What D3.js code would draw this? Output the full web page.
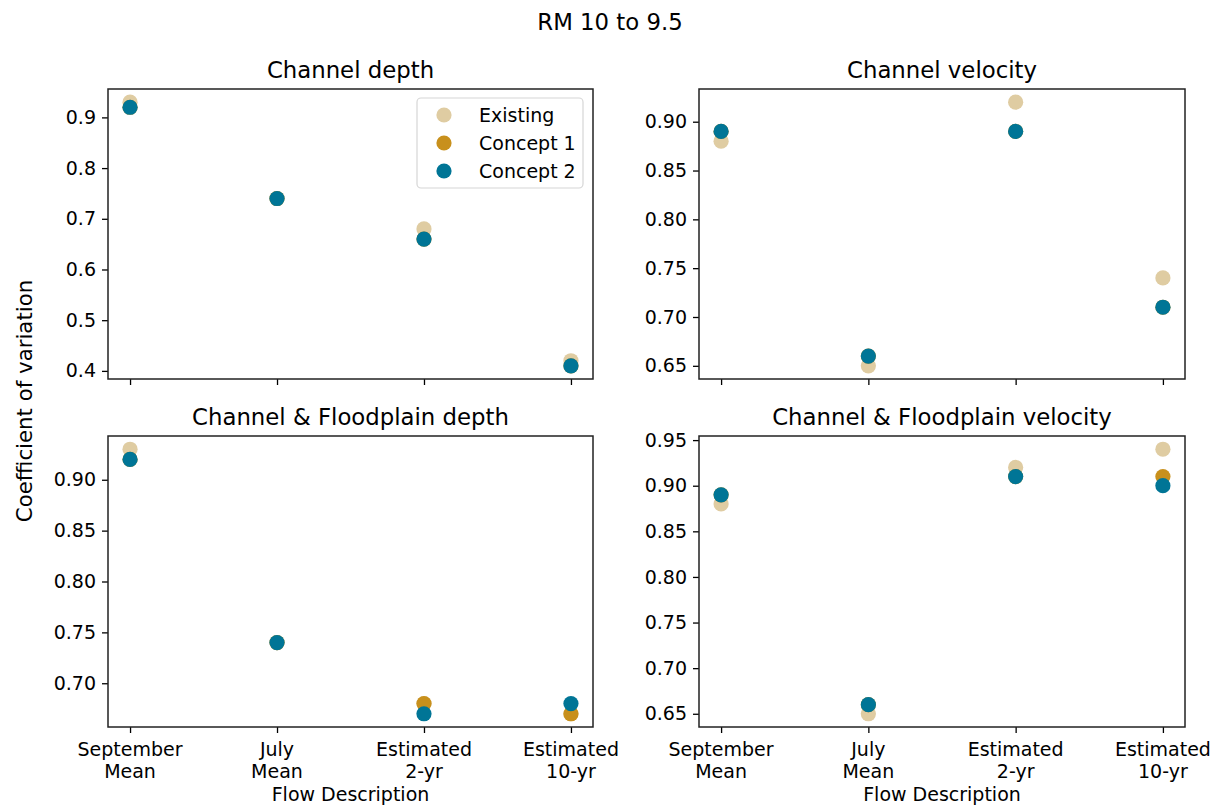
<!DOCTYPE html>
<html>
<head>
<meta charset="utf-8">
<script src="https://cdn.jsdelivr.net/npm/d3@7"></script>
<style>
  html, body { margin: 0; padding: 0; background: #fff; }
  svg text { font-family: "DejaVu Sans", sans-serif; fill: #000; }
</style>
</head>
<body>
<svg id="chart" width="1211" height="805"></svg>
<script>
// Flow conditions along the x axis (two-line labels)
const flowLabels = [["September", "Mean"], ["July", "Mean"], ["Estimated", "2-yr"], ["Estimated", "10-yr"]];

// Scenario names and marker colours
const seriesNames = ["Existing", "Concept 1", "Concept 2"];
const seriesColors = ["#dfcca2", "#c8901c", "#007596"];

// Coefficient of variation per panel, one array per scenario
const channelDepth = {
  existing: [0.93, 0.74, 0.68, 0.42],
  concept1: [0.92, 0.74, 0.66, 0.41],
  concept2: [0.92, 0.74, 0.66, 0.41]
};
const channelVelocity = {
  existing: [0.88, 0.65, 0.92, 0.74],
  concept1: [0.89, 0.66, 0.89, 0.71],
  concept2: [0.89, 0.66, 0.89, 0.71]
};
const floodplainDepth = {
  existing: [0.93, 0.74, 0.68, 0.67],
  concept1: [0.92, 0.74, 0.68, 0.67],
  concept2: [0.92, 0.74, 0.67, 0.68]
};
const floodplainVelocity = {
  existing: [0.88, 0.65, 0.92, 0.94],
  concept1: [0.89, 0.66, 0.91, 0.91],
  concept2: [0.89, 0.66, 0.91, 0.90]
};

// Tick values for each panel's y axis
const ticksChannelDepth = [0.4, 0.5, 0.6, 0.7, 0.8, 0.9];
const ticksChannelVelocity = [0.65, 0.70, 0.75, 0.80, 0.85, 0.90];
const ticksFloodplainDepth = [0.70, 0.75, 0.80, 0.85, 0.90];
const ticksFloodplainVelocity = [0.65, 0.70, 0.75, 0.80, 0.85, 0.90, 0.95];

const panels = [
  { title: "Channel depth", data: channelDepth, ticks: ticksChannelDepth, fmt: ".1f",
    x0: 108, x1: 593, y0: 89, y1: 379, legend: true, xlabels: false },
  { title: "Channel velocity", data: channelVelocity, ticks: ticksChannelVelocity, fmt: ".2f",
    x0: 699, x1: 1185, y0: 89, y1: 379, legend: false, xlabels: false },
  { title: "Channel & Floodplain depth", data: floodplainDepth, ticks: ticksFloodplainDepth, fmt: ".2f",
    x0: 108, x1: 593, y0: 436, y1: 727, legend: false, xlabels: true },
  { title: "Channel & Floodplain velocity", data: floodplainVelocity, ticks: ticksFloodplainVelocity, fmt: ".2f",
    x0: 699, x1: 1185, y0: 436, y1: 727, legend: false, xlabels: true }
];

const svg = d3.select("#chart");
const tickFont = 19;
const titleFont = 22.8;

// Figure title
svg.append("text")
  .attr("x", 610).attr("y", 30)
  .attr("text-anchor", "middle")
  .style("font-size", titleFont + "px")
  .text("RM 10 to 9.5");

// Shared y label
svg.append("text")
  .attr("transform", "translate(32,401) rotate(-90)")
  .attr("text-anchor", "middle")
  .style("font-size", "21.3px")
  .text("Coefficient of variation");

panels.forEach(p => {
  const keys = ["existing", "concept1", "concept2"];
  const all = keys.flatMap(k => p.data[k]);
  const lo = d3.min(all), hi = d3.max(all);
  const pad = (hi - lo) * 0.05;

  // Categorical positions 0..3 with 5% margins on either side
  const xr = d3.scaleLinear().domain([-0.15, 3.15]).range([p.x0, p.x1]);
  const y = d3.scaleLinear().domain([lo - pad, hi + pad]).range([p.y1, p.y0]);

  const g = svg.append("g");

  // Points, drawn in scenario order so later ones sit on top
  keys.forEach((k, si) => {
    g.selectAll(null)
      .data(p.data[k])
      .join("circle")
      .attr("cx", (d, i) => xr(i))
      .attr("cy", d => y(d))
      .attr("r", 7.6)
      .attr("fill", seriesColors[si]);
  });

  // Y axis
  const yAxis = d3.axisLeft(y).tickValues(p.ticks).tickFormat(d3.format(p.fmt))
    .tickSizeInner(6).tickSizeOuter(0).tickPadding(6);
  const ya = svg.append("g").attr("transform", `translate(${p.x0},0)`).call(yAxis);
  ya.select(".domain").remove();
  ya.selectAll("line").attr("stroke", "#000").attr("stroke-width", 1.3);
  ya.selectAll("text").style("font-size", tickFont + "px").attr("font-family", "DejaVu Sans");

  // X axis ticks
  const xAxis = d3.axisBottom(xr).tickValues([0, 1, 2, 3]).tickFormat("")
    .tickSizeInner(6).tickSizeOuter(0);
  const xa = svg.append("g").attr("transform", `translate(0,${p.y1})`).call(xAxis);
  xa.select(".domain").remove();
  xa.selectAll("line").attr("stroke", "#000").attr("stroke-width", 1.3);

  if (p.xlabels) {
    flowLabels.forEach((lines, i) => {
      const t = svg.append("text")
        .attr("x", xr(i)).attr("y", p.y1 + 29)
        .attr("text-anchor", "middle")
        .style("font-size", tickFont + "px");
      lines.forEach((ln, j) => {
        t.append("tspan").attr("x", xr(i)).attr("dy", j === 0 ? 0 : 21.5).text(ln);
      });
    });
    svg.append("text")
      .attr("x", (p.x0 + p.x1) / 2).attr("y", 801)
      .attr("text-anchor", "middle")
      .style("font-size", tickFont + "px")
      .text("Flow Description");
  }

  // Frame
  svg.append("rect")
    .attr("x", p.x0).attr("y", p.y0)
    .attr("width", p.x1 - p.x0).attr("height", p.y1 - p.y0)
    .attr("fill", "none").attr("stroke", "#222").attr("stroke-width", 1.5);

  // Panel title
  svg.append("text")
    .attr("x", (p.x0 + p.x1) / 2).attr("y", p.y0 - 11)
    .attr("text-anchor", "middle")
    .style("font-size", titleFont + "px")
    .text(p.title);

  if (p.legend) {
    const lg = svg.append("g");
    lg.append("rect")
      .attr("x", 417).attr("y", 98).attr("width", 166).attr("height", 90)
      .attr("rx", 4).attr("fill", "#fff").attr("fill-opacity", 0.8)
      .attr("stroke", "#d6d6d6").attr("stroke-width", 1.2);
    seriesNames.forEach((name, i) => {
      const cy = 115 + i * 28;
      lg.append("circle").attr("cx", 444).attr("cy", cy).attr("r", 7.6).attr("fill", seriesColors[i]);
      lg.append("text").attr("x", 479).attr("y", cy + 6.5)
        .style("font-size", tickFont + "px").text(name);
    });
  }
});
</script>
</body>
</html>
